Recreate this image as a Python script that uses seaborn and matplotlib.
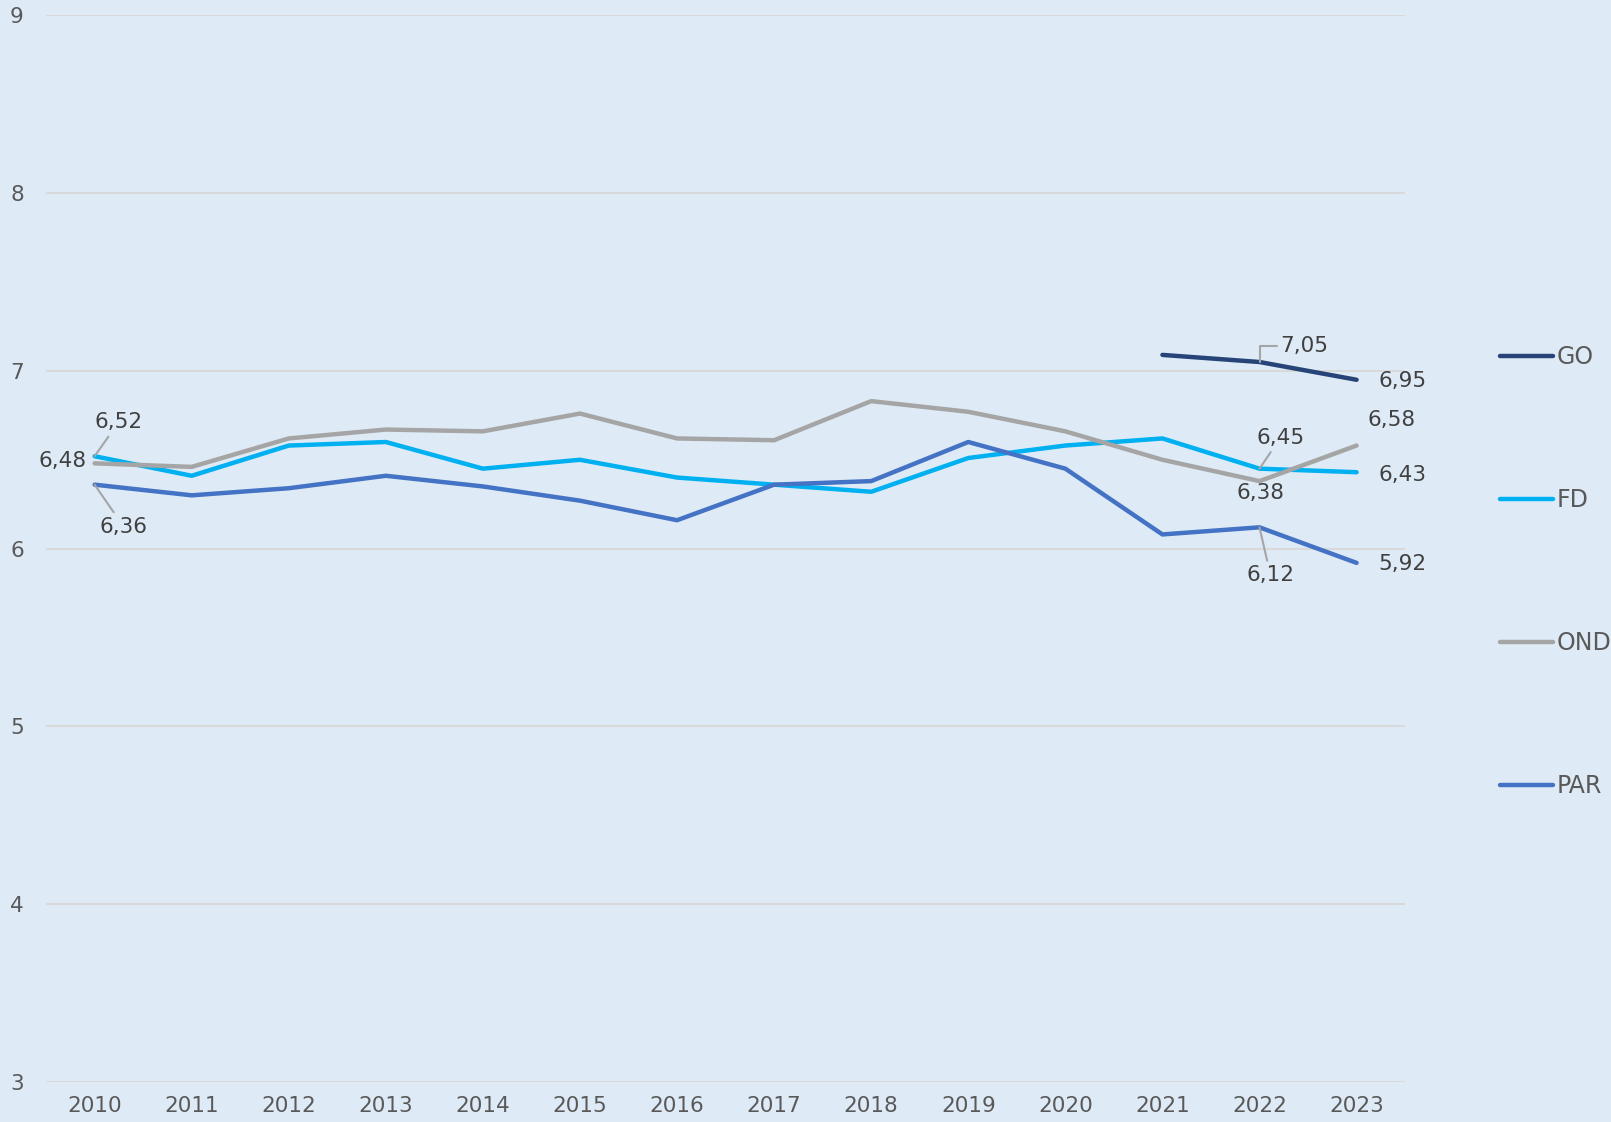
import numpy as np
import pandas as pd
import matplotlib
matplotlib.use('Agg')
import matplotlib.pyplot as plt
import seaborn as sns

# ── Data ──
YEARS = list(range(2010, 2024))
GO  = [np.nan] * 11 + [7.09, 7.05, 6.95]
FD  = [6.52, 6.41, 6.58, 6.60, 6.45, 6.50, 6.40, 6.36, 6.32, 6.51, 6.58, 6.62, 6.45, 6.43]
OND = [6.48, 6.46, 6.62, 6.67, 6.66, 6.76, 6.62, 6.61, 6.83, 6.77, 6.66, 6.50, 6.38, 6.58]
PAR = [6.36, 6.30, 6.34, 6.41, 6.35, 6.27, 6.16, 6.36, 6.38, 6.60, 6.45, 6.08, 6.12, 5.92]
SERIES = ['GO', 'FD', 'OND', 'PAR']
COLORS = {'GO': '#264478', 'FD': '#00B0F0', 'OND': '#A5A5A5', 'PAR': '#4472C4'}

# labels shown: (series, year, offset px, ha, leader)
LABELS = [
    ('FD', 2010, (24, 34), 'center', True),
    ('OND', 2010, (-8, 2), 'right', False),
    ('PAR', 2010, (29, -42), 'center', True),
    ('GO', 2022, (45, 16), 'center', 'angle'),
    ('GO', 2023, (46, -1), 'center', False),
    ('OND', 2023, (35, 26), 'center', False),
    ('FD', 2022, (21, 31), 'center', True),
    ('FD', 2023, (46, -3), 'center', False),
    ('OND', 2022, (1, -12), 'center', False),
    ('PAR', 2022, (11, -48), 'center', True),
    ('PAR', 2023, (46, -1), 'center', False),
]

BG = '#DEEBF7'
GRID = '#D9D9D9'
TICK_COL = '#595959'
LAB_COL = '#404040'

df = pd.DataFrame({'year': YEARS, 'GO': GO, 'FD': FD, 'OND': OND, 'PAR': PAR})
long = df.melt(id_vars='year', var_name='serie', value_name='waarde').dropna()

sns.set_style('white', {'axes.facecolor': BG})
plt.rcParams['font.family'] = ['DejaVu Sans']

fig = plt.figure(figsize=(16.11, 11.22), dpi=100, facecolor=BG)
ax = fig.add_axes([0.0286, 0.0357, 0.8436, 0.9506])
ax.set_facecolor(BG)

sns.lineplot(data=long, x='year', y='waarde', hue='serie', hue_order=SERIES,
             palette=COLORS, linewidth=3.2, ax=ax, solid_capstyle='round')

ax.set_xlim(YEARS[0] - 0.5, YEARS[-1] + 0.5)
ax.set_ylim(3, 9)
ax.set_xticks(YEARS)
ax.set_yticks(range(3, 10))
ax.tick_params(axis='both', length=0, labelsize=15.5, colors=TICK_COL)
ax.tick_params(axis='x', pad=10)
ax.tick_params(axis='y', pad=16)
ax.yaxis.grid(True, color=GRID, linewidth=1.5)
ax.set_axisbelow(True)
for s in ax.spines.values():
    s.set_visible(False)
ax.set_xlabel('')
ax.set_ylabel('')

# data labels
for serie, yr, off, ha, leader in LABELS:
    v = df.loc[df['year'] == yr, serie].values[0]
    txt = f'{v:.2f}'.replace('.', ',')
    kw = {}
    if leader is True:
        kw['arrowprops'] = dict(arrowstyle='-', color='#A5A5A5', lw=1.5,
                                shrinkA=1, shrinkB=0)
    elif leader == 'angle':
        kw['arrowprops'] = dict(arrowstyle='-', color='#A5A5A5', lw=1.5,
                                shrinkA=22, shrinkB=0,
                                connectionstyle='angle,angleA=0,angleB=90,rad=0')
    ax.annotate(txt, xy=(yr, v), xytext=off, textcoords='offset pixels',
                ha=ha, va='center', fontsize=15.5, color=LAB_COL, **kw)

# legend
leg = ax.legend(loc='upper left', bbox_to_anchor=(1.063, 0.70), frameon=False,
                fontsize=17, handlelength=2.25, handletextpad=0.12,
                labelspacing=5.05, borderaxespad=0)
for t in leg.get_texts():
    t.set_color(TICK_COL)
for h in leg.get_lines():
    h.set_linewidth(3.2)
    h.set_solid_capstyle('round')

fig.savefig('out.png', dpi=100, facecolor=BG)
